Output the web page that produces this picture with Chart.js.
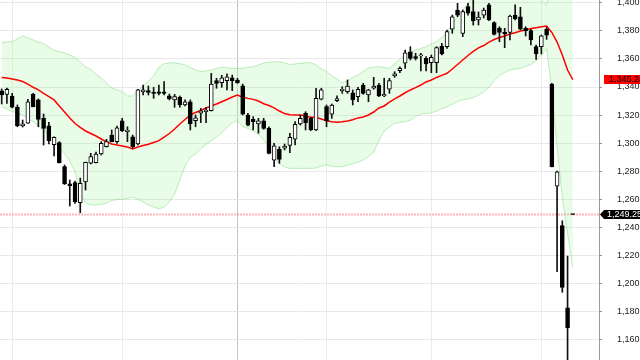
<!DOCTYPE html>
<html><head><meta charset="utf-8">
<script src="https://cdn.jsdelivr.net/npm/chart.js@4/dist/chart.umd.min.js"></script>
<style>html,body{margin:0;padding:0;background:#fff;overflow:hidden}#wrap{width:640px;height:360px}</style>
</head><body><div id="wrap"><canvas id="c" width="640" height="360"></canvas></div>
<script>
// ---- data (daily OHLC, index = trading day) ----
const opens=[1337.2,1334.8,1333.6,1325.6,1312.3,1314.2,1334.8,1330.8,1317.7,1312.3,
1298.9,1300.4,1283.3,1271.0,1271.9,1257.7,1272.4,1285.7,1286.1,1292.3,
1297.5,1305.8,1301.1,1316.0,1308.2,1304.6,1299.4,1336.6,1337.4,1336.2,
1336.6,1336.6,1333.8,1330.8,1332.7,1327.2,1329.5,1316.0,1321.3,1322.4,
1323.1,1344.5,1343.1,1344.5,1346.6,1345.0,1340.9,1320.1,1317.0,1313.7,
1316.0,1310.6,1288.0,1295.7,1296.4,1298.5,1302.8,1313.7,1321.3,1317.7,
1309.4,1331.3,1326.0,1320.6,1330.3,1337.4,1336.7,1335.9,1333.1,1341.4,
1334.3,1339.1,1341.4,1333.6,1338.4,1347.8,1351.6,1356.9,1365.1,1361.6,
1362.1,1360.4,1357.3,1357.3,1369.2,1368.7,1381.1,1394.8,1378.2,1397.2,
1393.6,1387.7,1391.2,1398.4,1385.8,1381.8,1378.9,1378.9,1391.2,1390.0,
1381.8,1380.1,1368.7,1368.7,1381.1,1342.1,1269.5,1241.3,1182.9,1249.25];
const highs=[1338.6,1339.3,1335.5,1327.2,1316.5,1331.3,1335.5,1331.5,1320.8,1314.9,
1304.6,1301.1,1284.5,1273.8,1273.1,1275.2,1286.6,1292.8,1293.7,1301.1,
1302.8,1309.4,1312.2,1317.7,1311.7,1305.8,1338.4,1341.4,1340.7,1339.8,
1341.4,1343.8,1335.0,1334.8,1333.6,1330.8,1330.8,1320.1,1324.8,1325.6,
1349.7,1346.2,1348.3,1349.3,1348.5,1346.2,1342.1,1321.3,1318.9,1317.7,
1317.7,1311.7,1299.9,1297.5,1299.4,1307.1,1315.3,1320.1,1322.4,1318.4,
1339.1,1339.1,1327.2,1327.9,1333.8,1340.2,1345.0,1337.9,1339.8,1342.6,
1338.4,1346.9,1342.6,1346.2,1346.2,1350.9,1354.4,1366.3,1368.7,1364.0,
1364.0,1361.6,1362.8,1368.7,1371.1,1380.6,1391.2,1399.6,1394.8,1399.6,
1402.5,1393.4,1396.2,1399.6,1386.5,1382.9,1381.8,1391.2,1398.4,1396.7,
1382.9,1381.1,1369.9,1377.0,1382.5,1342.6,1280.2,1244.8,1219.7,1249.25];
const lows=[1327.9,1328.4,1325.1,1311.7,1311.5,1314.0,1325.8,1311.7,1298.7,1299.4,
1290.9,1285.9,1270.6,1255.3,1257.2,1250.5,1266.7,1285.2,1285.9,1291.6,
1297.3,1300.9,1299.9,1308.2,1301.1,1296.4,1298.7,1334.3,1334.3,1331.9,
1334.3,1334.3,1330.8,1325.6,1325.6,1326.5,1309.4,1311.7,1314.6,1314.6,
1322.9,1339.1,1339.8,1337.9,1337.4,1342.6,1320.1,1312.3,1309.4,1307.1,
1309.9,1292.3,1283.3,1285.7,1295.2,1293.3,1298.7,1312.9,1309.4,1308.9,
1308.9,1330.8,1311.7,1317.7,1329.5,1335.5,1335.5,1327.2,1329.5,1334.8,
1329.5,1338.4,1333.1,1333.1,1335.5,1346.9,1350.2,1353.3,1359.2,1359.2,
1351.4,1351.4,1350.2,1350.2,1362.8,1367.5,1378.2,1390.0,1375.8,1391.2,
1384.1,1384.1,1389.1,1387.2,1377.0,1372.2,1368.0,1373.5,1387.7,1380.6,
1376.3,1369.9,1359.7,1363.5,1373.9,1283.1,1208.5,1193.9,1130.0,1249.25];
const closes=[1334.3,1338.4,1325.6,1312.3,1313.7,1329.5,1326.0,1317.0,1310.6,1301.8,
1304.2,1286.1,1271.0,1269.8,1258.4,1271.5,1286.4,1290.4,1292.3,1299.9,
1301.1,1301.1,1311.0,1308.9,1309.4,1297.5,1337.9,1337.9,1336.2,1335.5,
1335.5,1335.5,1331.5,1333.1,1327.2,1329.5,1313.7,1318.1,1323.1,1323.6,
1342.1,1342.6,1346.6,1347.3,1344.5,1343.1,1320.6,1312.9,1315.3,1316.0,
1310.6,1292.8,1298.2,1288.5,1298.0,1304.2,1313.5,1317.7,1314.6,1309.4,
1331.9,1337.9,1316.0,1327.2,1331.7,1338.4,1340.7,1330.8,1338.4,1335.5,
1337.9,1340.7,1333.6,1334.8,1344.5,1349.3,1353.3,1364.4,1360.4,1360.4,
1362.8,1356.4,1361.1,1368.0,1363.5,1379.4,1390.0,1391.2,1393.6,1392.5,
1387.2,1389.8,1394.8,1387.7,1377.5,1378.9,1377.7,1390.5,1388.4,1381.1,
1380.1,1373.5,1363.5,1376.5,1376.8,1283.3,1279.7,1197.4,1168.7,1249.25];
const maValues=[1346.8,1346.4,1345.7,1345.0,1343.9,1342.1,1339.8,1337.9,1335.4,1333.2,
1330.8,1326.5,1322.2,1318.0,1314.0,1311.2,1308.7,1306.9,1305.1,1303.0,
1300.9,1299.4,1298.7,1298.0,1297.3,1295.9,1297.3,1298.4,1299.2,1300.5,
1301.8,1304.4,1306.9,1310.1,1313.7,1316.9,1320.1,1321.9,1323.3,1325.1,
1326.5,1327.9,1329.5,1331.1,1332.9,1334.3,1332.7,1331.9,1331.2,1330.0,
1328.1,1326.8,1325.1,1322.9,1321.1,1320.3,1320.1,1320.1,1319.4,1318.4,
1318.4,1317.2,1315.9,1315.2,1314.9,1315.3,1315.8,1316.7,1318.0,1318.6,
1320.1,1322.2,1325.1,1326.5,1329.3,1331.5,1333.6,1335.9,1337.9,1339.6,
1341.4,1343.6,1345.0,1346.8,1348.3,1349.8,1352.8,1356.0,1359.2,1362.4,
1365.3,1367.8,1369.5,1372.0,1373.8,1375.2,1376.3,1377.7,1378.6,1379.9,
1380.6,1381.6,1382.2,1382.8,1383.4,1378.8,1372.0,1362.8,1352.1,1345.24];
const upperBand=[1371.7,1372.0,1372.3,1374.2,1376.3,1374.9,1373.5,1372.0,1371.0,1368.5,
1366.0,1365.3,1364.2,1362.8,1361.0,1357.8,1354.2,1352.5,1349.3,1346.4,
1342.8,1339.3,1337.9,1336.7,1333.6,1333.6,1337.9,1340.7,1343.9,1347.8,
1354.2,1356.7,1357.2,1357.1,1356.6,1355.7,1353.9,1352.1,1351.0,1351.4,
1352.1,1353.2,1354.0,1353.7,1353.3,1353.3,1353.3,1353.9,1354.5,1355.7,
1357.1,1357.8,1358.0,1358.0,1357.1,1356.0,1356.4,1356.9,1357.1,1357.3,
1355.7,1352.8,1351.0,1348.2,1345.5,1342.9,1344.6,1346.8,1348.5,1351.0,
1353.5,1354.2,1354.5,1353.9,1353.3,1356.7,1359.9,1362.8,1364.6,1366.3,
1367.4,1368.7,1370.6,1372.2,1374.9,1379.1,1384.8,1389.8,1394.8,1399.8,
1404.8,1409.0,1410.5,1411.9,1411.9,1411.2,1410.5,1410.5,1410.5,1409.7,
1408.3,1406.9,1404.8,1401.9,1398.4,1418.3,1443.9,1466.0,1467.4,1478.8];
const lowerBand=[1326.1,1324.3,1322.6,1321.5,1320.1,1317.6,1315.3,1312.3,1309.0,1305.5,
1301.6,1296.6,1292.7,1287.3,1279.5,1265.3,1257.4,1256.0,1256.0,1256.4,
1257.4,1259.2,1259.9,1260.1,1260.6,1261.5,1260.3,1258.2,1256.0,1254.6,
1253.2,1254.6,1258.2,1263.8,1273.8,1283.8,1290.2,1292.3,1296.2,1299.1,
1301.9,1304.4,1307.6,1311.2,1314.4,1316.0,1311.9,1310.5,1308.9,1306.5,
1302.3,1297.3,1289.5,1285.2,1283.1,1282.1,1282.1,1282.1,1282.1,1282.1,
1282.4,1283.8,1284.5,1283.4,1283.3,1283.3,1284.3,1285.2,1286.6,1288.0,
1290.5,1293.7,1301.6,1308.7,1311.5,1314.2,1314.7,1315.3,1316.2,1319.0,
1320.8,1321.3,1321.6,1322.9,1324.7,1326.0,1327.9,1329.7,1330.8,1331.5,
1332.5,1334.3,1336.4,1340.0,1344.3,1348.2,1350.3,1352.1,1352.8,1353.3,
1354.6,1356.0,1358.5,1362.8,1367.5,1337.9,1297.3,1261.7,1236.1,1211.2];
const yTicks=[1160,1180,1200,1220,1240,1260,1280,1300,1320,1340,1360,1380,1400];
const periodStarts=[2,23,45,62,82,103];
const yearStart=45;
const lastPrice=closes[closes.length-1];
const lastMA=maValues[maValues.length-1];

const pts=a=>a.map((v,i)=>({x:i,y:v}));
const FONT='"Liberation Sans", Arial, sans-serif';
const fmt=v=>v.toLocaleString('en-US',{maximumFractionDigits:2});

const overlay={
  id:'overlay',
  beforeDatasetsDraw(chart){
    const {ctx,chartArea:a,scales:{y}}=chart;
    const py=y.getPixelForValue(lastPrice);
    ctx.save();
    ctx.strokeStyle='rgba(255,70,70,0.4)';ctx.lineWidth=2;ctx.setLineDash([2,1]);
    ctx.beginPath();ctx.moveTo(a.left,py);ctx.lineTo(a.right,py);ctx.stroke();
    ctx.restore();
  },
  afterDraw(chart){
    const {ctx,scales:{y}}=chart;
    ctx.save();
    ctx.font='9px '+FONT;ctx.textBaseline='middle';ctx.textAlign='left';
    const my=y.getPixelForValue(lastMA);
    const mt=Math.round(my-4.5);
    ctx.fillStyle='#ff0000';ctx.fillRect(604,mt,36,9);
    ctx.fillStyle='#000';ctx.fillText(fmt(lastMA),609,mt+5);
    const py=y.getPixelForValue(lastPrice);
    const pt=Math.round(py-4.5);
    ctx.fillStyle='#000';
    ctx.beginPath();ctx.moveTo(600,pt+4.5);ctx.lineTo(604,pt);ctx.lineTo(640,pt);ctx.lineTo(640,pt+9);ctx.lineTo(604,pt+9);ctx.closePath();ctx.fill();
    ctx.fillStyle='#fff';ctx.fillText(fmt(lastPrice),607,pt+5);
    ctx.restore();
  }
};

new Chart(document.getElementById('c'),{
  type:'bar',
  data:{datasets:[
    {type:'line',label:'upper',data:pts(upperBand),borderColor:'rgba(110,215,110,0.45)',borderWidth:1,pointRadius:0,fill:'+1',backgroundColor:'rgba(150,240,150,0.22)',order:5},
    {type:'line',label:'lower',data:pts(lowerBand),borderColor:'rgba(110,215,110,0.45)',borderWidth:1,pointRadius:0,fill:false,order:5},
    {type:'line',label:'ma',data:pts(maValues),borderColor:'#ff0000',borderWidth:1.5,pointRadius:0,fill:false,order:4},
    {type:'bar',label:'wick',data:highs.map((h,i)=>({x:i,y:[lows[i],h]})),backgroundColor:'#111',borderWidth:0,barThickness:1,grouped:false,order:3},
    {type:'bar',label:'body',data:opens.map((o,i)=>({x:i,y:[o,closes[i]]})),
      backgroundColor:c=>closes[c.dataIndex]>opens[c.dataIndex]?'#fff':'#000',
      borderColor:'#000',borderWidth:1,borderSkipped:false,barThickness:4,minBarLength:1,grouped:false,order:2}
  ]},
  options:{
    responsive:false,animation:false,devicePixelRatio:1,
    layout:{padding:0},
    plugins:{legend:{display:false},tooltip:{enabled:false}},
    scales:{
      x:{type:'linear',min:-0.32,max:114.0,offset:false,
        grid:{offset:false,drawTicks:false,color:c=>c.tick&&c.tick.value===yearStart?'#c4c4c4':'#ececec',lineWidth:1},
        border:{display:false},ticks:{display:false},
        afterBuildTicks:s=>{s.ticks=periodStarts.map(v=>({value:v}));},
        afterFit:s=>{s.height=0;s.paddingLeft=0;s.paddingRight=0;}},
      y:{type:'linear',position:'right',min:1145.7,max:1401.92,
        grid:{color:'#e8e8e8',tickLength:3,tickColor:'#999'},
        border:{display:true,color:'#9a9a9a'},
        ticks:{padding:15,color:'#222',font:{family:FONT,size:9},callback:v=>fmt(v)},
        afterBuildTicks:s=>{s.ticks=yTicks.map(v=>({value:v}));},
        afterFit:s=>{s.width=41;s.paddingTop=0;s.paddingBottom=0;}}
    }
  },
  plugins:[overlay]
});
</script></body></html>
